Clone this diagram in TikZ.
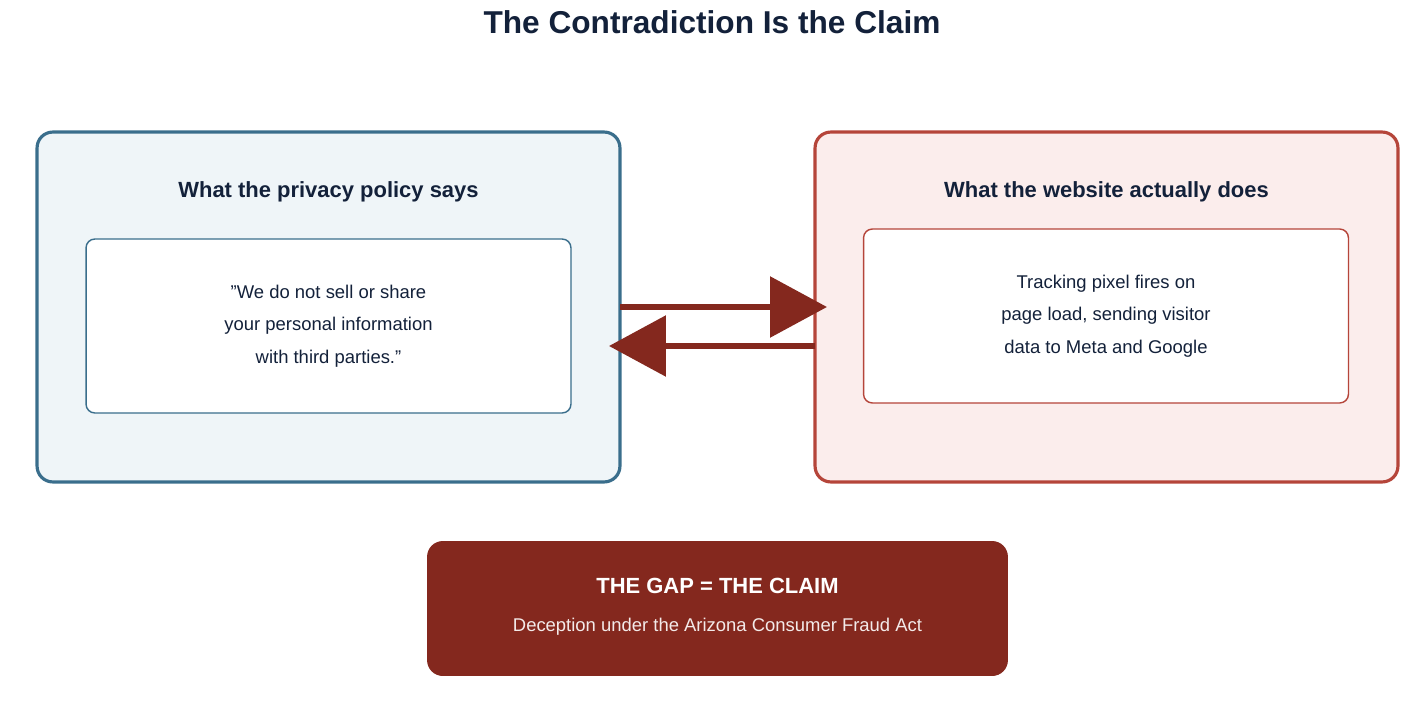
\documentclass[tikz,border=0pt]{standalone}
\usepackage{fontspec}
\setmainfont{Liberation Sans}
\usetikzlibrary{arrows.meta,positioning}
\definecolor{navy}{HTML}{13213A}
\definecolor{policyBlue}{HTML}{3A6E8C}
\definecolor{policyFill}{HTML}{EFF5F8}
\definecolor{siteRed}{HTML}{B5453A}
\definecolor{siteFill}{HTML}{FBEDEC}
\definecolor{gapRed}{HTML}{84281E}
\begin{document}
\begin{tikzpicture}[x=0.02cm, y=-0.02cm,
    outerStyle/.style={rectangle, rounded corners=9pt, line width=1.8pt, minimum width=11.66cm, minimum height=7cm},
    innerStyle/.style={rectangle, rounded corners=5pt, fill=white, line width=0.8pt, minimum width=9.7cm, minimum height=3.48cm, align=center, font=\fontsize{10.5}{18.5}\selectfont, text=navy},
    headStyle/.style={font=\bfseries\fontsize{12.5}{15}\selectfont, text=navy},
    arrowStyle/.style={gapRed, line width=3.4pt, -{Triangle[length=1.14cm, width=1.2cm]}}]
    \useasboundingbox (0,0) rectangle (1424,706);

    \node[headStyle, font=\bfseries\fontsize{18}{22}\selectfont] (title) at (712,22) {The Contradiction Is the Claim};

    % policy side
    \node[outerStyle, draw=policyBlue, fill=policyFill] (policy) at (328.5,307) {};
    \node[headStyle] (policy_h) at (328.5,192) {What the privacy policy says};
    \node[innerStyle, draw=policyBlue] (policy_q) at (328.5,326) {"We do not sell or share\\your personal information\\with third parties."};

    % website side
    \node[outerStyle, draw=siteRed, fill=siteFill] (site) at (1106.5,307) {};
    \node[headStyle] (site_h) at (1106.5,192) {What the website actually does};
    \node[innerStyle, draw=siteRed] (site_q) at (1106,316) {Tracking pixel fires on\\page load, sending visitor\\data to Meta and Google};

    % arrows
    \coordinate (top_s) at (620,307);
    \coordinate (top_e) at (827,307);
    \coordinate (low_s) at (815,346);
    \coordinate (low_e) at (609,346);
    \draw[arrowStyle] (top_s) -- (top_e);
    \draw[arrowStyle] (low_s) -- (low_e);

    % gap
    \node[rectangle, rounded corners=9pt, fill=gapRed, minimum width=11.62cm, minimum height=2.7cm] (gap) at (717.5,608.5) {};
    \node[font=\bfseries\fontsize{12.5}{15}\selectfont, text=white] (gap_h) at (717.5,586) {THE GAP = THE CLAIM};
    \node[font=\fontsize{10.5}{13}\selectfont, text=white!90!gapRed] (gap_t) at (717.5,627) {Deception under the Arizona Consumer Fraud Act};
\end{tikzpicture}
\end{document}
